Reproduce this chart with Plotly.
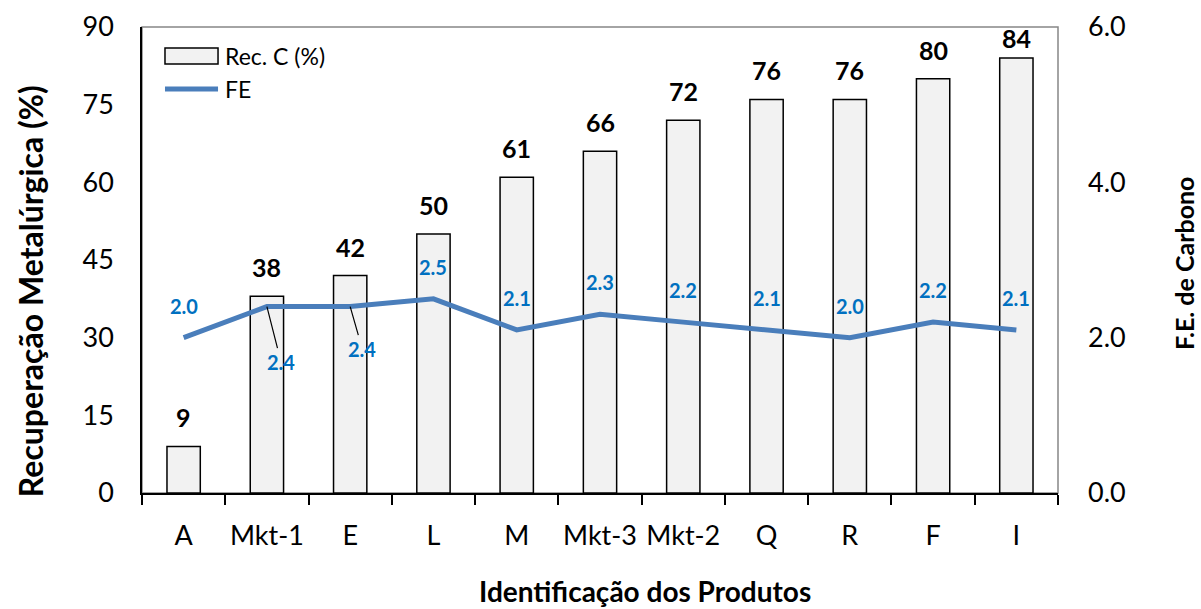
import plotly.graph_objects as go

# ---- data ----
categories = ["A", "Mkt-1", "E", "L", "M", "Mkt-3", "Mkt-2", "Q", "R", "F", "I"]
recuperacao = [9, 38, 42, 50, 61, 66, 72, 76, 76, 80, 84]
fe = [2.0, 2.4, 2.4, 2.5, 2.1, 2.3, 2.2, 2.1, 2.0, 2.2, 2.1]
y1_ticks = [0, 15, 30, 45, 60, 75, 90]
y2_ticks = [0.0, 2.0, 4.0, 6.0]

FONT = "Lato"
BLUE_LINE = "#4A7EBB"
BLUE_TXT = "#0070C0"

fig = go.Figure()
fig.add_trace(go.Bar(
    x=categories, y=recuperacao, name="Rec. C (%)",
    marker=dict(color="#F2F2F2", line=dict(color="black", width=1.5)),
    width=0.4, showlegend=False,
))
fig.add_trace(go.Scatter(
    x=categories, y=fe, name="FE", yaxis="y2", mode="lines",
    line=dict(color=BLUE_LINE, width=5), showlegend=False,
))

ann = []
# bar value labels
bar_shift = {"I": 20}
for c, v in zip(categories, recuperacao):
    ann.append(dict(x=c, y=v, xref="x", yref="y", text=f"<b>{v:.0f}</b>",
                    showarrow=False, xanchor="center", yanchor="middle",
                    yshift=bar_shift.get(c, 29),
                    font=dict(family=FONT, size=25, color="black")))
# FE labels (special placement for a couple of points, with leader lines)
special = {"Mkt-1": (14, 55), "E": (12, 42)}
for c, v in zip(categories, fe):
    if c in special:
        ax, ay = special[c]
        ann.append(dict(x=c, y=v, xref="x", yref="y2", text=f"<b>{v:.1f}</b>",
                        showarrow=True, arrowhead=0, arrowwidth=1.2,
                        arrowcolor="black", ax=ax, ay=ay, standoff=0,
                        font=dict(family=FONT, size=20, color=BLUE_TXT)))
    else:
        ann.append(dict(x=c, y=v, xref="x", yref="y2", text=f"<b>{v:.1f}</b>",
                        showarrow=False, xanchor="center", yanchor="middle",
                        yshift=32,
                        font=dict(family=FONT, size=20, color=BLUE_TXT)))

# axis titles
ann.append(dict(x=-0.1223, y=0.433, xref="paper", yref="paper", textangle=-90,
                xanchor="center", yanchor="middle",
                text="<b>Recuperação Metalúrgica (%)</b>", showarrow=False,
                font=dict(family=FONT, size=32, color="black")))
ann.append(dict(x=1.1376, y=0.4936, xref="paper", yref="paper", textangle=-90,
                xanchor="center", yanchor="middle",
                text="<b>F.E. de Carbono</b>", showarrow=False,
                font=dict(family=FONT, size=25, color="black")))
ann.append(dict(x=0.549, y=-0.2103, xref="paper", yref="paper",
                xanchor="center", yanchor="middle",
                text="<b>Identificação dos Produtos</b>", showarrow=False,
                font=dict(family=FONT, size=28, color="black")))

# custom legend
ann.append(dict(x=0.0884, y=0.938, xref="paper", yref="paper", xanchor="left",
                yanchor="middle", text="Rec. C (%)", showarrow=False,
                font=dict(family=FONT, size=23, color="black")))
ann.append(dict(x=0.0884, y=0.867, xref="paper", yref="paper", xanchor="left",
                yanchor="middle", text="FE", showarrow=False,
                font=dict(family=FONT, size=23, color="black")))

shapes = [
    dict(type="rect", xref="paper", yref="paper", x0=0, x1=1, y0=0, y1=1,
         line=dict(color="#868686", width=1.5), layer="below"),
    dict(type="rect", xref="paper", yref="paper", x0=0.0251, x1=0.083,
         y0=0.9206, y1=0.955, fillcolor="#F2F2F2",
         line=dict(color="black", width=1.5)),
    dict(type="line", xref="paper", yref="paper", x0=0.0251, x1=0.083,
         y0=0.867, y1=0.867, line=dict(color=BLUE_LINE, width=5)),
]

fig.update_layout(
    width=1201, height=609,
    margin=dict(l=142, r=143, t=27, b=116, autoexpand=False),
    paper_bgcolor="white", plot_bgcolor="white",
    font=dict(family=FONT, size=26, color="black"),
    bargap=0.6,
    xaxis=dict(type="category", showline=True, linecolor="black", linewidth=1.5,
               ticks="outside", tickson="boundaries", ticklen=10,
               tickcolor="black", tickwidth=1.5, showgrid=False, automargin=False,
               tickangle=0,
               tickfont=dict(family=FONT, size=27), ticklabelstandoff=18),
    yaxis=dict(range=[0, 90], tickvals=y1_ticks, showgrid=False, zeroline=False,
               showline=True, linecolor="black", linewidth=1.5, ticks="",
               automargin=False,
               tickfont=dict(family=FONT, size=27), ticklabelstandoff=21),
    yaxis2=dict(range=[0, 6], tickvals=y2_ticks, tickformat=".1f", overlaying="y",
                side="right", showgrid=False, zeroline=False, showline=False,
                ticks="", automargin=False,
                tickfont=dict(family=FONT, size=27), ticklabelstandoff=29),
    annotations=ann, shapes=shapes, showlegend=False,
)

# remove the default page margin so the 1201x609 figure fills the window exactly
fig.write_html("out.html",
               config={"displayModeBar": False},
               post_script="document.body.style.margin='0px';"
                           "document.body.style.overflow='hidden';")
